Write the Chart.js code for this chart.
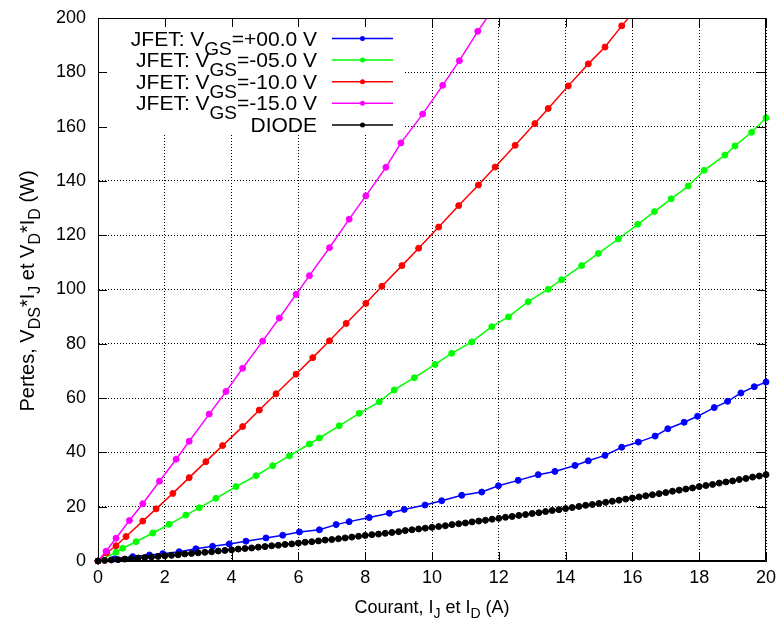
<!DOCTYPE html>
<html>
<head>
<meta charset="utf-8">
<script src="https://cdn.jsdelivr.net/npm/chart.js@4.4.1/dist/chart.umd.min.js"></script>
<style>
  html, body { margin: 0; padding: 0; background: #fff; }
</style>
</head>
<body>
<canvas id="chart" width="776" height="626"></canvas>
<script>
// values
const blueX = [0, 0.5, 1.04, 1.54, 1.94, 2.43, 2.93, 3.43, 3.93, 4.43, 5.03, 5.53, 6.03, 6.63, 7.13, 7.52, 8.12, 8.72, 9.17, 9.79,
    10.29, 10.89, 11.49, 11.99, 12.58, 13.18, 13.68, 14.28, 14.68, 15.18, 15.68, 16.18, 16.68, 17.06, 17.55, 17.95, 18.45, 18.85, 19.25, 19.65, 20.0];
const blueY = [0, 0.8, 1.6, 2.2, 2.7, 3.4, 4.5, 5.4, 6.3, 7.3, 8.5, 9.5, 10.7, 11.5, 13.4, 14.5, 16.0, 17.6, 19.0, 20.6,
    22.2, 24.2, 25.4, 27.7, 29.7, 31.8, 33.0, 35.2, 36.9, 38.9, 41.9, 43.8, 46.0, 48.7, 51.1, 53.3, 56.5, 58.8, 61.9, 64.2, 65.9];

const greenX = [0, 0.54, 0.74, 1.14, 1.64, 2.13, 2.63, 3.03, 3.53, 4.13, 4.73, 5.23, 5.73, 6.33, 6.63, 7.22, 7.82, 8.42, 8.87, 9.47,
    10.09, 10.59, 11.19, 11.79, 12.29, 12.88, 13.48, 13.88, 14.48, 14.98, 15.58, 16.16, 16.66, 17.16, 17.67, 18.15, 18.77, 19.07, 19.57, 20.0];
const greenY = [0, 3.2, 4.7, 7.1, 10.3, 13.5, 16.9, 19.6, 23.1, 27.4, 31.4, 35.1, 38.7, 43.1, 45.3, 49.8, 54.4, 58.6, 63.0, 67.5,
    72.4, 76.5, 80.7, 86.3, 89.9, 95.5, 100.1, 103.6, 108.8, 113.3, 118.6, 124.0, 128.7, 133.4, 138.1, 143.9, 149.5, 152.9, 157.9, 163.2];

const redX = [0, 0.26, 0.54, 0.84, 1.34, 1.74, 2.24, 2.73, 3.23, 3.73, 4.33, 4.83, 5.33, 5.93, 6.43, 6.93, 7.43, 8.02, 8.5, 9.1,
    9.6, 10.2, 10.8, 11.39, 11.89, 12.49, 13.08, 13.48, 14.08, 14.68, 15.18, 15.68, 16.2];
const redY = [0, 3.0, 5.6, 9.0, 14.7, 19.2, 24.9, 30.7, 36.6, 42.5, 49.5, 55.6, 61.6, 68.8, 74.9, 81.1, 87.5, 94.9, 101.2, 108.8,
    115.2, 123.0, 130.9, 138.5, 145.1, 153.1, 161.1, 166.7, 175.0, 183.1, 189.3, 197.1, 204.5];

const magentaX = [0, 0.24, 0.54, 0.94, 1.34, 1.84, 2.34, 2.73, 3.33, 3.83, 4.33, 4.93, 5.43, 5.93, 6.33, 6.93, 7.52, 8.02, 8.62, 9.07,
    9.72, 10.32, 10.82, 11.37, 11.9];
const magentaY = [0, 3.6, 8.4, 14.9, 21.1, 29.4, 37.5, 44.1, 54.1, 62.4, 71.0, 81.0, 89.5, 98.2, 105.1, 115.4, 125.9, 134.5, 145.0, 154.0,
    164.6, 175.2, 184.3, 195.1, 204.6];

const diodeX = [0, 0.2, 0.4, 0.6, 0.8, 1.0, 1.2, 1.4, 1.6, 1.8, 2.0, 2.2, 2.4, 2.6, 2.8, 3.0, 3.2, 3.4, 3.6, 3.8,
    4.0, 4.2, 4.4, 4.6, 4.8, 5.0, 5.2, 5.4, 5.6, 5.8, 6.0, 6.2, 6.4, 6.6, 6.8, 7.0, 7.2, 7.4, 7.6, 7.8,
    8.0, 8.2, 8.4, 8.6, 8.8, 9.0, 9.2, 9.4, 9.6, 9.8, 10.0, 10.2, 10.4, 10.6, 10.8, 11.0, 11.2, 11.4, 11.6, 11.8,
    12.0, 12.2, 12.4, 12.6, 12.8, 13.0, 13.2, 13.4, 13.6, 13.8, 14.0, 14.2, 14.4, 14.6, 14.8, 15.0, 15.2, 15.4, 15.6, 15.8,
    16.0, 16.2, 16.4, 16.6, 16.8, 17.0, 17.2, 17.4, 17.6, 17.8, 18.0, 18.2, 18.4, 18.6, 18.8, 19.0, 19.2, 19.4, 19.6, 19.8, 20.0];
const diodeY = [0, 0.2, 0.4, 0.5, 0.7, 0.9, 1.1, 1.3, 1.5, 1.7, 1.9, 2.1, 2.3, 2.6, 2.8, 3.0, 3.2, 3.4, 3.7, 3.9,
    4.1, 4.4, 4.6, 4.8, 5.1, 5.3, 5.6, 5.8, 6.1, 6.3, 6.6, 6.9, 7.1, 7.4, 7.7, 7.9, 8.2, 8.5, 8.8, 9.1,
    9.4, 9.7, 9.9, 10.2, 10.5, 10.8, 11.2, 11.5, 11.8, 12.1, 12.4, 12.7, 13.0, 13.4, 13.7, 14.0, 14.4, 14.7, 15.0, 15.4,
    15.7, 16.1, 16.4, 16.8, 17.1, 17.5, 17.8, 18.2, 18.6, 18.9, 19.3, 19.7, 20.1, 20.5, 20.8, 21.2, 21.6, 22.0, 22.4, 22.8,
    23.2, 23.6, 24.0, 24.4, 24.8, 25.2, 25.7, 26.1, 26.5, 26.9, 27.4, 27.8, 28.2, 28.7, 29.1, 29.5, 30.0, 30.4, 30.9, 31.3, 31.8];

const xTicks = [0, 2, 4, 6, 8, 10, 12, 14, 16, 18, 20];
const yTicks = [0, 20, 40, 60, 80, 100, 120, 140, 160, 180, 200];

// legend / axis texts, pieces flagged 1 are subscripts
const seriesLabels = [
    [["JFET: V", 0], ["GS", 1], ["=+00.0 V", 0]],
    [["JFET: V", 0], ["GS", 1], ["=-05.0 V", 0]],
    [["JFET: V", 0], ["GS", 1], ["=-10.0 V", 0]],
    [["JFET: V", 0], ["GS", 1], ["=-15.0 V", 0]],
    [["DIODE", 0]]
];
const xTitle = [["Courant, I", 0], ["J", 1], [" et I", 0], ["D", 1], [" (A)", 0]];
const yTitle = [["Pertes, V", 0], ["DS", 1], ["*I", 0], ["J", 1], [" et V", 0], ["D", 1], ["*I", 0], ["D", 1], [" (W)", 0]];

const colors = ["#0000ff", "#00ff00", "#ff0000", "#ff00ff", "#000000"];
const FONT = '"Liberation Sans", Arial, Helvetica, sans-serif';

function toPoints(xs, ys) {
    return xs.map((x, i) => ({ x: x, y: ys[i] }));
}

function makeSet(xs, ys, color, order) {
    return {
        data: toPoints(xs, ys),
        showLine: true,
        borderColor: color,
        backgroundColor: color,
        borderWidth: 1.5,
        pointStyle: "circle",
        pointRadius: 3,
        pointBorderWidth: 1,
        pointHoverRadius: 3,
        order: order,
        clip: { left: 6, right: 6, top: 0, bottom: 6 }
    };
}

function richWidth(ctx, parts, size, subSize) {
    let w = 0;
    parts.forEach(p => {
        ctx.font = (p[1] ? subSize : size) + "px " + FONT;
        w += ctx.measureText(p[0]).width;
    });
    return w;
}

function drawRich(ctx, parts, x, y, size, subSize, drop) {
    let cx = x;
    parts.forEach(p => {
        ctx.font = (p[1] ? subSize : size) + "px " + FONT;
        ctx.fillText(p[0], cx, p[1] ? y + drop : y);
        cx += ctx.measureText(p[0]).width;
    });
}

const overlay = {
    id: "overlay",
    beforeDatasetsDraw(chart) {
        const c = chart.ctx;
        c.save();
        c.fillStyle = "#fff";
        c.fillRect(99, 19, 304, 115);
        c.restore();
    },
    afterDatasetsDraw(chart) {
        const c = chart.ctx;
        const a = chart.chartArea;
        const xs = chart.scales.x, ys = chart.scales.y;
        c.save();
        c.strokeStyle = "#000";
        c.lineWidth = 1;
        c.beginPath();
        c.rect(a.left + 0.5, a.top + 0.5, a.right - a.left - 1, a.bottom - a.top - 1);
        xTicks.forEach(v => {
            const px = Math.round(xs.getPixelForValue(v)) + 0.5;
            c.moveTo(px, a.bottom); c.lineTo(px, a.bottom - 9);
            c.moveTo(px, a.top); c.lineTo(px, a.top + 9);
        });
        yTicks.forEach(v => {
            const py = Math.round(ys.getPixelForValue(v)) + 0.5;
            c.moveTo(a.left, py); c.lineTo(a.left + 9, py);
            c.moveTo(a.right, py); c.lineTo(a.right - 9, py);
        });
        c.stroke();

        // key
        c.fillStyle = "#000";
        c.textBaseline = "alphabetic";
        seriesLabels.forEach((parts, i) => {
            const ly = 38.5 + i * 21.6;
            const w = richWidth(c, parts, 21, 19);
            drawRich(c, parts, 317 - w, ly + 7, 21, 19, 9);
            c.strokeStyle = colors[i];
            c.lineWidth = 1.5;
            c.beginPath();
            c.moveTo(332, ly); c.lineTo(393, ly);
            c.stroke();
            c.fillStyle = colors[i];
            c.beginPath();
            c.arc(362.5, ly, 2.5, 0, Math.PI * 2);
            c.fill();
            c.fillStyle = "#000";
        });
        c.restore();
    },
    afterDraw(chart) {
        const c = chart.ctx;
        c.save();
        c.fillStyle = "#000";
        c.textBaseline = "alphabetic";
        let w = richWidth(c, xTitle, 18, 14);
        drawRich(c, xTitle, 432 - w / 2, 613, 18, 14, 5);
        c.translate(27, 291);
        c.rotate(-Math.PI / 2);
        w = richWidth(c, yTitle, 20, 16);
        drawRich(c, yTitle, -w / 2, 7, 20, 16, 6);
        c.restore();
    }
};

Chart.defaults.font.family = FONT;
Chart.defaults.color = "#000";

const ctx = document.getElementById("chart").getContext("2d");
new Chart(ctx, {
    type: "scatter",
    data: {
        datasets: [
            makeSet(blueX, blueY, colors[0], 5),
            makeSet(greenX, greenY, colors[1], 4),
            makeSet(redX, redY, colors[2], 3),
            makeSet(magentaX, magentaY, colors[3], 2),
            makeSet(diodeX, diodeY, colors[4], 1)
        ]
    },
    options: {
        responsive: false,
        animation: false,
        devicePixelRatio: 1,
        layout: { padding: { top: 18, right: 10, left: 0, bottom: 0 } },
        plugins: { legend: { display: false }, tooltip: { enabled: false } },
        scales: {
            x: {
                type: "linear", min: 0, max: 20,
                afterFit: s => { s.height = 65; s.paddingLeft = 0; s.paddingRight = 0; },
                afterBuildTicks: s => { s.ticks = xTicks.map(v => ({ value: v })); },
                ticks: { color: "#000", font: { size: 18 }, padding: 6, maxRotation: 0 },
                grid: { color: "#000", lineWidth: 1, drawTicks: false },
                border: { display: true, color: "#000", width: 1, dash: [1, 2] }
            },
            y: {
                type: "linear", min: 0, max: 200,
                afterFit: s => { s.width = 98; s.paddingTop = 0; s.paddingBottom = 0; },
                afterBuildTicks: s => { s.ticks = yTicks.map(v => ({ value: v })); },
                ticks: { color: "#000", font: { size: 18 }, padding: 12 },
                grid: { color: "#000", lineWidth: 1, drawTicks: false },
                border: { display: true, color: "#000", width: 1, dash: [1, 2] }
            }
        }
    },
    plugins: [overlay]
});
</script>
</body>
</html>
